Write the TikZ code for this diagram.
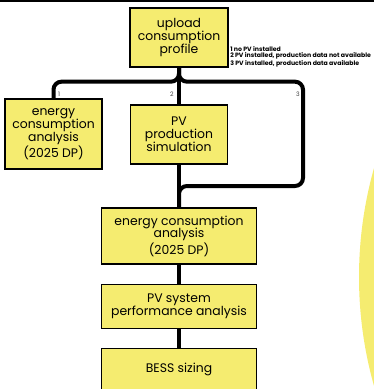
\documentclass[tikz,border=0pt]{standalone}
\usepackage{fontspec}
\setmainfont{Poppins}
\usetikzlibrary{positioning}
\definecolor{boxyellow}{RGB}{245,236,112}

\begin{document}
\begin{tikzpicture}[x=0.75pt,y=-0.75pt]
        \tikzstyle{stage}=[draw=black, line width=1pt, fill=boxyellow, inner sep=0pt, align=center, font=\fontsize{9.3}{9.6}\selectfont]
        \tikzstyle{link}=[line width=3pt, rounded corners=6pt]
        \tikzstyle{case}=[inner sep=0pt, text=black!75, font=\fontsize{4.6}{4.6}\selectfont]

        \useasboundingbox (0,0) rectangle (374,389);
        \fill[boxyellow] (759,277) circle[radius=400];
        \draw[line width=1.2pt] (0,0.8) -- (374,0.8);

        \node[stage, minimum width=73.5pt, minimum height=44.25pt] (upload) at (179,37.5) {upload\\consumption\\profile};
        \node[stage, minimum width=72.75pt, minimum height=52.5pt] (cons1) at (53.5,134) {energy\\consumption\\analysis\\(2025 DP)};
        \node[stage, minimum width=72.75pt, minimum height=44.25pt] (pvsim) at (179,134.5) {PV\\production\\simulation};
        \node[stage, minimum width=116.25pt, minimum height=42pt] (cons2) at (179,236) {energy consumption\\analysis\\(2025 DP)};
        \node[stage, minimum width=116.25pt, minimum height=33pt, below=14.25pt of cons2] (perf) {PV system\\performance analysis};
        \node[stage, minimum width=116.25pt, minimum height=31.5pt, below=14.25pt of perf] (bess) {BESS sizing};

        \node[case] (n1) at (59,94) {1};
        \node[case] (n2) at (172,94) {2};
        \node[case] (n3) at (298,94) {3};
        \node[anchor=west, align=left, inner sep=0pt, font=\fontsize{4.65}{4.7}\selectfont\bfseries] (notes) at (230,56.5) {1 no PV installed\\2 PV installed, production data not available\\3 PV installed, production data available};

        \coordinate (bend) at (303,186);
        \draw[link] (upload.south) -- ++(0,14) -| (cons1.north);
        \draw[link] (upload.south) -- (pvsim.north);
        \draw[link] (upload.south) -- ++(0,14) -| (bend) -| (cons2.north);
        \draw[link] (pvsim.south) -- (cons2.north);
        \draw[link] (cons2.south) -- (perf.north);
        \draw[link] (perf.south) -- (bess.north);
\end{tikzpicture}
\end{document}
